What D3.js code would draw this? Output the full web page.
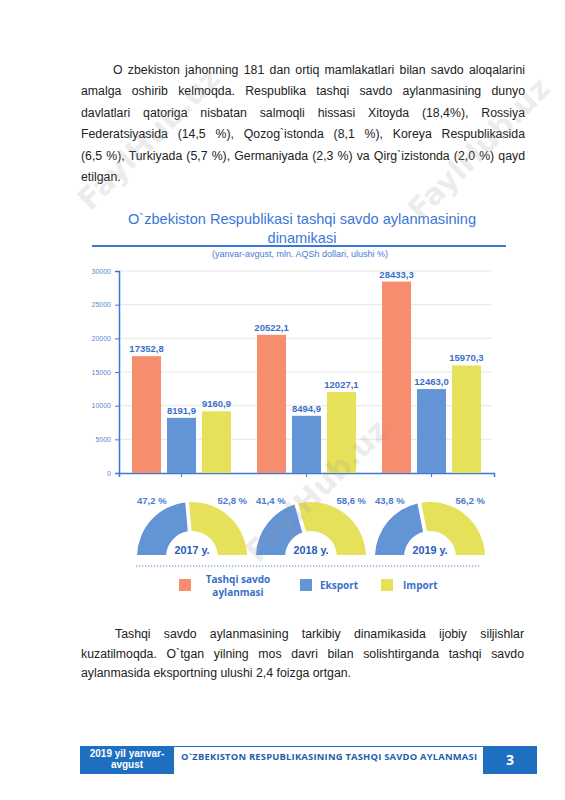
<!DOCTYPE html>
<html>
<head>
<meta charset="utf-8">
<script src="https://cdn.jsdelivr.net/npm/d3@7"></script>
<style>
  html, body { margin: 0; padding: 0; background: #fff; }
  body { width: 565px; height: 800px; position: relative; overflow: hidden; }
  .para { position: absolute; font-family: "Liberation Sans", Arial, sans-serif; font-size: 12.3px; color: #222; }
  .ln { text-align: justify; text-align-last: justify; }
  .ln.last { text-align-last: left; }
  svg { position: absolute; left: 0; top: 0; }
</style>
</head>
<body>
<div id="p1" class="para"></div>
<div id="p2" class="para"></div>
<svg id="chart" width="565" height="800"></svg>
<script>
// ---------- data ----------
const years = ["2017 y.", "2018 y.", "2019 y."];
const seriesNames = ["Tashqi savdo aylanmasi", "Eksport", "Import"];
const turnover = [17352.8, 20522.1, 28433.3];
const exportVals = [8191.9, 8494.9, 12463.0];
const importVals = [9160.9, 12027.1, 15970.3];
const exportShare = [47.2, 41.4, 43.8];
const importShare = [52.8, 58.6, 56.2];
const yTicks = [0, 5000, 10000, 15000, 20000, 25000, 30000];
const titleLines = ["O`zbekiston Respublikasi tashqi savdo aylanmasining", "dinamikasi"];
const subtitle = "(yanvar-avgust, mln. AQSh dollari, ulushi %)";
const para1 = [
  "O zbekiston jahonning 181 dan ortiq mamlakatlari bilan savdo aloqalarini",
  "amalga oshirib kelmoqda. Respublika tashqi savdo aylanmasining dunyo",
  "davlatlari qatoriga nisbatan salmoqli hissasi Xitoyda (18,4%), Rossiya",
  "Federatsiyasida (14,5 %), Qozog`istonda (8,1 %), Koreya Respublikasida",
  "(6,5 %), Turkiyada (5,7 %), Germaniyada (2,3 %) va Qirg`izistonda (2,0 %) qayd",
  "etilgan."
];
const para2 = [
  "Tashqi savdo aylanmasining tarkibiy dinamikasida ijobiy siljishlar",
  "kuzatilmoqda. O`tgan yilning mos davri bilan solishtirganda tashqi savdo",
  "aylanmasida eksportning ulushi 2,4 foizga ortgan."
];
const footerLeft = ["2019 yil yanvar-", "avgust"];
const footerMid = "O`ZBEKISTON RESPUBLIKASINING TASHQI SAVDO AYLANMASI";
const pageNum = "3";
const watermark = "FaylHub.uz";

// ---------- paragraphs ----------
function para(sel, lines, left, top, width, lh, indent) {
  const d = d3.select(sel).style("left", left + "px").style("top", top + "px").style("width", width + "px");
  d.selectAll("div").data(lines).join("div")
    .attr("class", (t, i) => "ln" + (i === lines.length - 1 ? " last" : ""))
    .style("height", lh + "px").style("line-height", lh + "px")
    .style("padding-left", (t, i) => (i === 0 ? indent : 0) + "px")
    .text(t => t);
}
para("#p1", para1, 81, 60, 444, 21.4, 32);
para("#p2", para2, 81, 625, 443, 19.6, 34);

// ---------- chart ----------
const svg = d3.select("#chart");
const blueText = "#3a6fc8";
const colors = ["#f78d6f", "#6394d6", "#e6e15a"];
const fmt = v => d3.format(".1f")(v).replace(".", ",");

// watermarks (behind, semi-transparent overlay drawn later)
const wmPos = [[150, 140], [480, 150], [318, 492]];

// title
svg.append("g").selectAll("text").data(titleLines).join("text")
  .attr("x", 302).attr("y", (d, i) => 224 + i * 19)
  .attr("text-anchor", "middle")
  .attr("font-family", "Liberation Sans, Arial, sans-serif")
  .attr("font-size", 14.6).attr("fill", "#3a78d8")
  .text(d => d);
svg.append("line").attr("x1", 92).attr("x2", 506).attr("y1", 246).attr("y2", 246)
  .attr("stroke", "#3a78d8").attr("stroke-width", 2);
svg.append("text").attr("x", 300).attr("y", 257).attr("text-anchor", "middle")
  .attr("font-family", "Liberation Sans, Arial, sans-serif").attr("font-size", 9)
  .attr("fill", "#4a7bd0").text(subtitle);

// scales
const x0 = d3.scaleBand().domain(years).range([119, 494]);
const x1 = d3.scaleBand().domain(seriesNames).range([13, 112]).paddingInner(0.17);
const y = d3.scaleLinear().domain([0, 30000]).range([473, 271]);

// gridlines
svg.append("g").selectAll("line").data(yTicks.slice(1)).join("line")
  .attr("x1", 119).attr("x2", 492)
  .attr("y1", d => y(d)).attr("y2", d => y(d))
  .attr("stroke", "#e6e6e6").attr("stroke-width", 1);

// y axis
const yAxis = svg.append("g").attr("transform", "translate(119,0)")
  .call(d3.axisLeft(y).tickValues(yTicks).tickSize(4).tickPadding(4).tickFormat(d3.format("d")));
yAxis.select(".domain").attr("stroke", "#3c78d8").attr("stroke-width", 1.5);
yAxis.selectAll(".tick line").attr("stroke", "#3c78d8");
yAxis.selectAll(".tick text").attr("fill", "#5a87d8").attr("font-size", 7)
  .attr("font-family", "Liberation Sans, Arial, sans-serif");

// x axis
const xAxis = svg.append("g").attr("transform", "translate(0,473)")
  .call(d3.axisBottom(x0).tickSize(4).tickFormat(""));
xAxis.select(".domain").attr("stroke", "#3c78d8").attr("stroke-width", 1.5);
xAxis.selectAll(".tick line").attr("stroke", "#3c78d8");

// bars
const rows = years.map((yr, i) => ({ yr, vals: [turnover[i], exportVals[i], importVals[i]] }));
const groups = svg.append("g").selectAll("g").data(rows).join("g")
  .attr("transform", d => `translate(${x0(d.yr)},0)`);
groups.selectAll("rect").data(d => d.vals.map((v, j) => ({ v, s: seriesNames[j], j }))).join("rect")
  .attr("x", d => x1(d.s)).attr("width", x1.bandwidth())
  .attr("y", d => y(d.v)).attr("height", d => y(0) - y(d.v))
  .attr("fill", d => colors[d.j]);
groups.selectAll("text").data(d => d.vals.map((v, j) => ({ v, s: seriesNames[j], j }))).join("text")
  .attr("x", d => x1(d.s) + x1.bandwidth() / 2).attr("y", d => y(d.v) - 4)
  .attr("text-anchor", "middle")
  .attr("font-family", "Liberation Sans, Arial, sans-serif").attr("font-weight", "bold")
  .attr("font-size", 9.5).attr("fill", blueText)
  .text(d => fmt(d.v));

// half donuts
const xd = d3.scalePoint().domain(years).range([192, 430]);
const cy = 557, rOut = 55, rIn = 26;
const pie = d3.pie().sort(null).startAngle(-Math.PI / 2).endAngle(Math.PI / 2);
const arc = d3.arc().innerRadius(rIn).outerRadius(rOut).padAngle(0.07).padRadius(rOut);
const donuts = svg.append("g").selectAll("g").data(years.map((yr, i) => ({ yr, shares: [exportShare[i], importShare[i]] })))
  .join("g").attr("transform", d => `translate(${xd(d.yr)},${cy})`);
donuts.selectAll("path").data(d => pie(d.shares)).join("path")
  .attr("d", arc).attr("fill", (d, i) => colors[i + 1]);
donuts.append("text").attr("x", -rOut).attr("y", -53)
  .attr("font-family", "Liberation Sans, Arial, sans-serif").attr("font-size", 9.5).attr("font-weight", "bold")
  .attr("fill", "#4a7bd0").text(d => fmt(d.shares[0]) + " %");
donuts.append("text").attr("x", rOut).attr("y", -53).attr("text-anchor", "end")
  .attr("font-family", "Liberation Sans, Arial, sans-serif").attr("font-size", 9.5).attr("font-weight", "bold")
  .attr("fill", "#4a7bd0").text(d => fmt(d.shares[1]) + " %");
donuts.append("text").attr("x", 0).attr("y", -3).attr("text-anchor", "middle")
  .attr("font-family", "Liberation Sans, Arial, sans-serif").attr("font-size", 10.8).attr("font-weight", "bold")
  .attr("fill", "#2a5cb8").text(d => d.yr);

// dotted separator
svg.append("line").attr("x1", 136).attr("x2", 480).attr("y1", 566).attr("y2", 566)
  .attr("stroke", "#4a7bd0").attr("stroke-width", 1.2).attr("stroke-dasharray", "1.2,1.8");

// legend
const legendX = d3.scaleOrdinal().domain(seriesNames).range([179, 300, 381]);
const lg = svg.append("g").selectAll("g").data(seriesNames).join("g")
  .attr("transform", d => `translate(${legendX(d)},579)`);
lg.append("rect").attr("width", 12).attr("height", 12).attr("fill", (d, i) => colors[i]);
lg.each(function (d, i) {
  const g = d3.select(this);
  const t = g.append("text").attr("font-family", "Open Sans, sans-serif").attr("font-weight", "bold")
    .attr("font-size", 10).attr("fill", blueText);
  if (i === 0) {
    const parts = ["Tashqi savdo", "aylanmasi"];
    t.attr("text-anchor", "middle").selectAll("tspan").data(parts).join("tspan")
      .attr("x", 59).attr("y", (p, k) => 4 + k * 13).text(p => p);
  } else {
    t.attr("x", i === 1 ? 20 : 22).attr("y", 10).text(d);
  }
});

// footer
const foot = svg.append("g");
foot.append("line").attr("x1", 80).attr("x2", 537).attr("y1", 746.5).attr("y2", 746.5)
  .attr("stroke", "#1e6fc0").attr("stroke-width", 1);
foot.append("rect").attr("x", 80).attr("y", 746).attr("width", 94).attr("height", 28).attr("fill", "#1e6fc0");
foot.append("rect").attr("x", 483).attr("y", 746).attr("width", 54).attr("height", 28).attr("fill", "#1e6fc0");
foot.append("text").attr("text-anchor", "middle").attr("font-family", "Liberation Sans, Arial, sans-serif")
  .attr("font-weight", "bold").attr("font-size", 10).attr("fill", "#fff")
  .selectAll("tspan").data(footerLeft).join("tspan")
  .attr("x", 127).attr("y", (d, i) => 756.5 + i * 11.3).text(d => d);
foot.append("text").attr("x", 329).attr("y", 760).attr("text-anchor", "middle")
  .attr("font-family", "Open Sans, sans-serif").attr("font-weight", "bold").attr("font-size", 9.4)
  .attr("textLength", 296).attr("lengthAdjust", "spacing")
  .attr("fill", "#1e5fb0").text(footerMid);
foot.append("text").attr("x", 510).attr("y", 765).attr("text-anchor", "middle")
  .attr("font-family", "Open Sans, sans-serif").attr("font-weight", "bold").attr("font-size", 14)
  .attr("fill", "#fff").text(pageNum);

// watermarks
svg.append("g").attr("pointer-events", "none").selectAll("text").data(wmPos).join("text")
  .attr("transform", d => `translate(${d[0]},${d[1]}) rotate(-45)`)
  .attr("text-anchor", "middle").attr("dominant-baseline", "middle")
  .attr("font-family", "DejaVu Sans, sans-serif").attr("font-weight", "bold").attr("font-size", 30)
  .attr("fill", "#9a9a9a").attr("fill-opacity", 0.2)
  .text(watermark);
</script>
</body>
</html>
